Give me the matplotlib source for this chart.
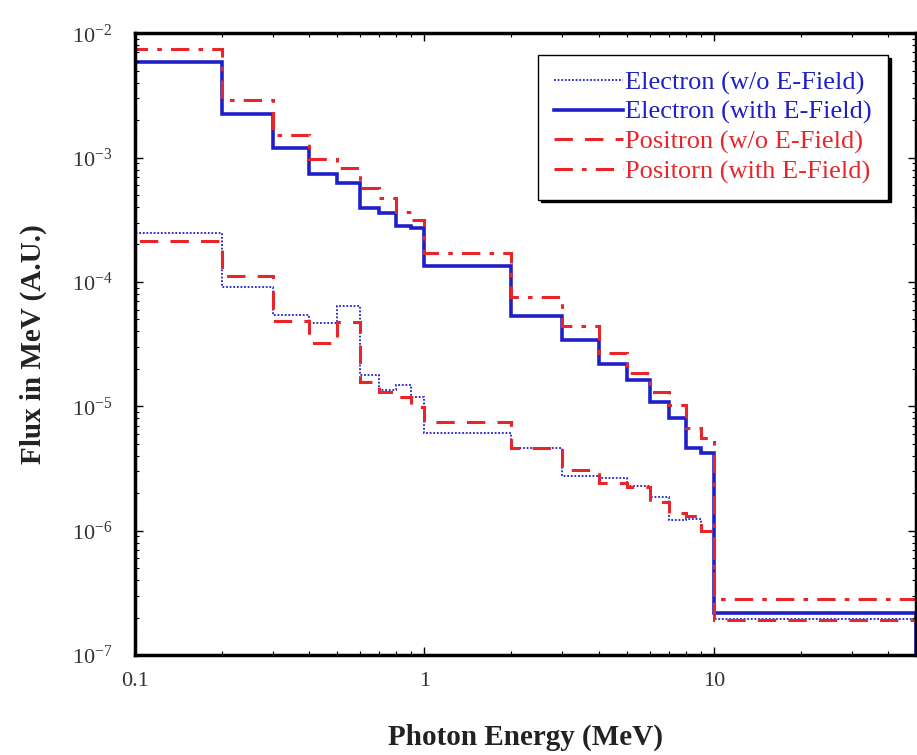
import matplotlib
matplotlib.use("Agg")
import matplotlib.pyplot as plt
from matplotlib.ticker import LogLocator, LogFormatterMathtext, FixedLocator, FixedFormatter
import numpy as np

plt.rcParams['font.family'] = ['Liberation Serif', 'DejaVu Serif']
plt.rcParams['mathtext.fontset'] = 'stix'

# bin edges (MeV)
edges = [0.1, 0.2, 0.3, 0.4, 0.5, 0.6, 0.7, 0.8, 0.9, 1.0,
         2, 3, 4, 5, 6, 7, 8, 9, 10, 50]

elec_no_field = [2.47e-4, 9.1e-5, 5.4e-5, 4.7e-5, 6.4e-5, 1.78e-5, 1.35e-5, 1.48e-5, 1.19e-5, 6.1e-6,
                 4.6e-6, 2.75e-6, 2.65e-6, 2.3e-6, 1.86e-6, 1.22e-6, 1.25e-6, 1.0e-6, 1.95e-7]
elec_field = [5.85e-3, 2.23e-3, 1.19e-3, 7.4e-4, 6.2e-4, 3.92e-4, 3.57e-4, 2.8e-4, 2.71e-4, 1.34e-4,
              5.3e-5, 3.4e-5, 2.18e-5, 1.63e-5, 1.08e-5, 8.0e-6, 4.6e-6, 4.2e-6, 2.18e-7]
posi_no_field = [2.13e-4, 1.11e-4, 4.85e-5, 3.2e-5, 4.8e-5, 1.57e-5, 1.3e-5, 1.19e-5, 9.9e-6, 7.5e-6,
                 4.6e-6, 3.07e-6, 2.41e-6, 2.24e-6, 1.7e-6, 1.39e-6, 1.3e-6, 1.0e-6, 1.91e-7]
posi_field = [7.4e-3, 2.89e-3, 1.51e-3, 9.7e-4, 8.2e-4, 5.67e-4, 4.72e-4, 3.64e-4, 3.14e-4, 1.71e-4,
              7.55e-5, 4.42e-5, 2.68e-5, 1.85e-5, 1.3e-5, 1.02e-5, 6.7e-6, 5.55e-6, 2.82e-7]

labels = ["Electron (w/o E-Field)", "Electron (with E-Field)",
          "Positron (w/o E-Field)", "Positorn (with E-Field)"]
xticks = [0.1, 1, 10]
xticklabels = ["0.1", "1", "10"]

blue = '#1f1fc8'
red = '#e8262a'

fig = plt.figure(figsize=(9.17, 7.55), dpi=100)
ax = fig.add_axes([0.147, 0.1325, 0.852, 0.8235])

ax.stairs(elec_no_field, edges, color=blue, lw=1.3, ls=(0, (1, 1)), label=labels[0])
ax.stairs(elec_field, edges, color=blue, lw=2.6, ls='-', label=labels[1])
ax.stairs(posi_no_field, edges, color=red, lw=2.2, ls=(0, (6, 4)), label=labels[2])
ax.stairs(posi_field, edges, color=red, lw=2.2, ls=(0, (6, 3, 1.5, 3)), label=labels[3])

ax.set_xscale('log')
ax.set_yscale('log')
ax.set_xlim(0.1, 50)
ax.set_ylim(1e-7, 1e-2)

ax.xaxis.set_major_locator(FixedLocator(xticks))
ax.xaxis.set_major_formatter(FixedFormatter(xticklabels))
ax.xaxis.set_minor_locator(LogLocator(base=10, subs=np.arange(2, 10)))
ax.xaxis.set_minor_formatter(plt.NullFormatter())
ax.yaxis.set_major_locator(LogLocator(base=10, numticks=10))
ax.yaxis.set_major_formatter(LogFormatterMathtext())
ax.yaxis.set_minor_locator(LogLocator(base=10, subs=np.arange(2, 10), numticks=20))

ax.tick_params(which='both', direction='in', top=True, right=True, colors='black',
               labelcolor='#333333', labelsize=16)
ax.tick_params(which='major', length=6, width=1)
ax.tick_params(which='minor', length=3, width=0.8)
ax.tick_params(axis='x', pad=12)
ax.tick_params(axis='y', pad=16)
for s in ax.spines.values():
    s.set_linewidth(2.5)

ax.set_xlabel("Photon Energy (MeV)", fontsize=21, fontweight='bold', color='#222222', labelpad=24)
ax.set_ylabel("Flux in MeV (A.U.)", fontsize=21, fontweight='bold', color='#222222', labelpad=18)

leg = ax.legend(loc='upper right', bbox_to_anchor=(0.964, 0.965), borderaxespad=0,
                fancybox=False, edgecolor='black', framealpha=1,
                shadow={'color': 'black', 'alpha': 1},
                fontsize=19, handlelength=2.6, handletextpad=0.1,
                labelspacing=0.22, borderpad=0.6)
leg.get_frame().set_linewidth(1.0)
for t, c in zip(leg.get_texts(), [blue, blue, red, red]):
    t.set_color(c)

fig.savefig("out.png", dpi=100)
